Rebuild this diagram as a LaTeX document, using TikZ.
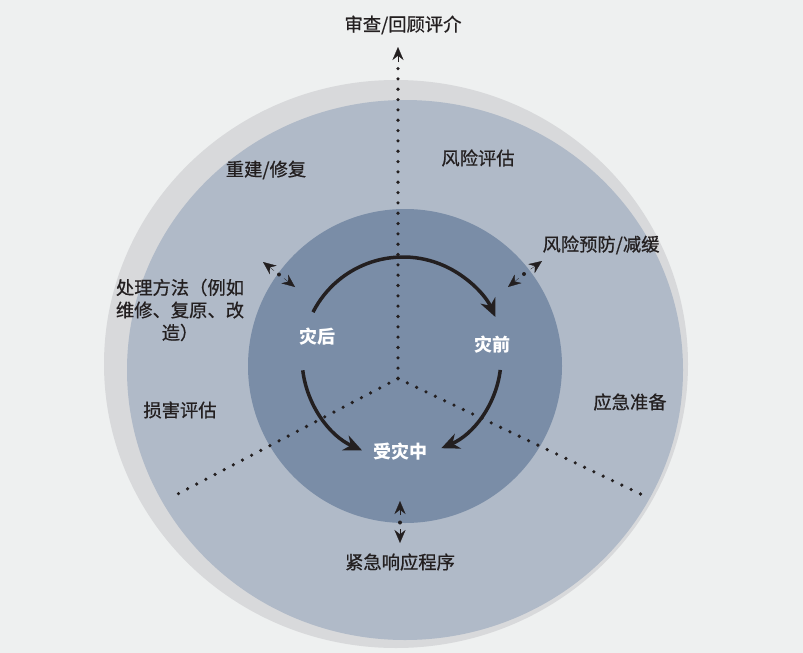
\documentclass[tikz,border=0pt]{standalone}
\usepackage{fontspec}
\newfontfamily\cjk{Noto Sans CJK SC}[FakeBold=0.7]
\newfontfamily\cjkw{Noto Sans CJK SC}
\usetikzlibrary{arrows.meta,calc}
\definecolor{bgc}{HTML}{EEF0F0}
\definecolor{ringc}{HTML}{D8D9DB}
\definecolor{outerc}{HTML}{B0BAC8}
\definecolor{innerc}{HTML}{7A8DA7}
\definecolor{inkc}{HTML}{231F20}
\begin{document}
\begin{tikzpicture}[x=1pt,y=-1pt,
  lab/.style={font=\cjk\fontsize{18.3}{22.5}\selectfont, text=inkc, inner sep=0pt},
  wlab/.style={font=\cjkw\bfseries\fontsize{18}{22}\selectfont, text=white, inner sep=0pt},
  dotline/.style={draw=inkc, line width=3.6pt, line cap=round, dash pattern=on 0pt off 10.33pt},
  cyc/.style={draw=inkc, line width=3.5pt, -{Stealth[length=18pt,width=16pt]}},
  headtip/.style={draw=inkc, line width=0.3pt, -{Stealth[length=13pt,width=11pt]}},
  smalldot/.style={fill=inkc}
]
\fill[bgc] (0,0) rectangle (803,653);
\useasboundingbox (0,0) rectangle (803,653);

% discs
\fill[ringc] (396,364) ellipse [x radius=292, y radius=284];
\fill[outerc] (405,370) ellipse [x radius=278, y radius=270];
\fill[innerc] (405,366) circle [radius=157];

% dotted spokes
\coordinate (o) at (398,378.5);
\coordinate (topend) at (398,68);
\coordinate (ll) at (172,497);
\coordinate (lr) at (649,498);
\draw[dotline] (o) -- (topend);
\draw[dotline] (o) -- (ll);
\draw[dotline] (o) -- (lr);

% top arrow head
\coordinate (toptip) at (398,47);
\draw[headtip] ($(toptip)!15pt!(o)$) -- (toptip);

% small double arrows
\coordinate (ulA) at (263,262);
\coordinate (ulB) at (295,287);
\coordinate (ulM) at (279,274.5);
\coordinate (urA) at (542,261);
\coordinate (urB) at (508,287);
\coordinate (urM) at (524,274);
\coordinate (bA) at (400,501);
\coordinate (bB) at (400,543);
\coordinate (bM) at (400,522.5);
\foreach \t/\m in {ulA/ulM, ulB/ulM, urA/urM, urB/urM, bA/bM, bB/bM}{
  \draw[headtip] ($(\t)!14pt!(\m)$) -- (\t);
}
\fill[smalldot] (ulM) circle [radius=2];
\fill[smalldot] (urM) circle [radius=2];
\fill[smalldot] (bM) circle [radius=2];

% cycle arrows (centre 403,358)
\coordinate (cc) at (403,358);
\draw[cyc] ($(cc)+(207:101)$) arc [start angle=207, end angle=336, radius=101];
\draw[cyc] ($(cc)+(7:98)$) arc [start angle=7, end angle=67, radius=98];
\draw[cyc] ($(cc)+(173:101)$) arc [start angle=173, end angle=114, radius=101];

% labels
\node[lab] (review) at (403,25) {审查/回顾评介};
\node[lab] (rebuild) at (266,170) {重建/修复};
\node[lab] (riskass) at (478,158) {风险评估};
\node[lab] (mitig) at (601,245) {风险预防/减缓};
\node[lab, align=center] (treat) at (180,310) {处理方法（例如\\维修、复原、改\\造）};
\node[lab] (damage) at (180,410) {损害评估};
\node[lab] (prep) at (630,402) {应急准备};
\node[lab] (emerg) at (400,562) {紧急响应程序};
\node[wlab] (after) at (317,337) {灾后};
\node[wlab] (before) at (492,345) {灾前};
\node[wlab] (during) at (400,452) {受灾中};
\end{tikzpicture}
\end{document}
